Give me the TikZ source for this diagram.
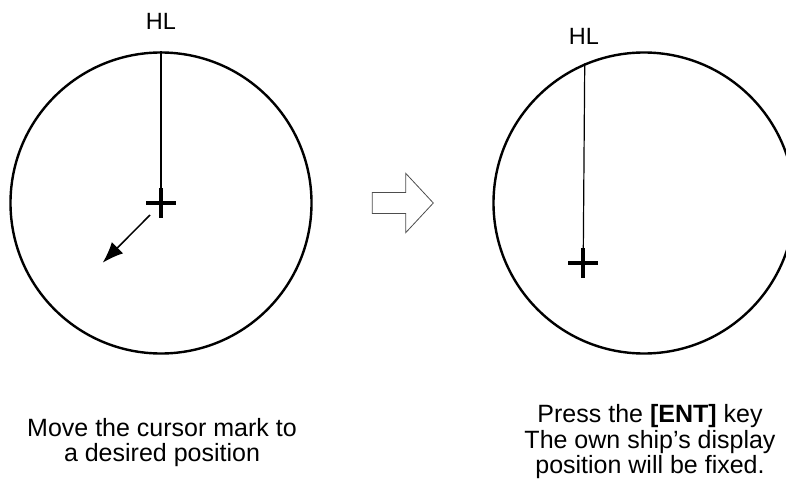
\documentclass[tikz,border=0pt]{standalone}
\usepackage{fontspec}
\setmainfont{Liberation Sans}
\usetikzlibrary{positioning, arrows.meta}
\definecolor{ScopeInk}{HTML}{000000}
\definecolor{HintGray}{HTML}{4D4D4D}

\begin{document}
\begin{tikzpicture}[x=1pt, y=-1pt,
  radarcircle/.style={circle, draw=ScopeInk, line width=2.4pt, minimum size=301pt, inner sep=0pt},
  hltext/.style={font=\fontsize{23.5}{25}\selectfont, inner sep=0pt, anchor=base},
  captiontext/.style={font=\fontsize{25}{25.2}\selectfont, align=center, inner sep=0pt, anchor=base},
  cursor/.pic={\draw[ScopeInk, line width=3.6pt] (-15,0) -- (15,0) (0,-15) -- (0,15);}]
  \useasboundingbox (0,0) rectangle (786,489);
  % the two radar pictures
  \node[radarcircle] (leftscope) at (161,203) {};
  \node[radarcircle] (rightscope) at (644,203) {};
  \coordinate (leftmark) at (161,203);
  \coordinate (rightmark) at (583.2,263);
  \draw[line width=1.2pt] (leftscope.north) -- (leftmark);
  \draw[line width=1.2pt] (rightscope.113.8) -- (rightmark);
  \pic at (leftmark) {cursor};
  \pic at (rightmark) {cursor};
  \node[hltext] (lefthl) at (161,29.3) {HL};
  \node[hltext] (righthl) at (584,44.3) {HL};
  % cursor move
  \coordinate (movestart) at (150,215);
  \coordinate (movetip) at (102.7,262.7);
  \draw[line width=1.5pt, -{Latex[length=21pt, width=16pt]}] (movestart) -- (movetip);
  % step arrow
  \draw[HintGray, line width=0.8pt] (372.3,192.5) -- (405.7,192.5) -- (405.7,173.3)
    -- (433.3,203) -- (405.7,232.7) -- (405.7,213.5) -- (372.3,213.5) -- cycle;
  \node[captiontext] (movetext) at (162,461.7) {Move the cursor mark to\\a desired position};
  \node[captiontext] (enttext) at (650,473.3) {Press the \textbf{[ENT]} key\\The own ship’s display\\position will be fixed.};
\end{tikzpicture}
\end{document}
